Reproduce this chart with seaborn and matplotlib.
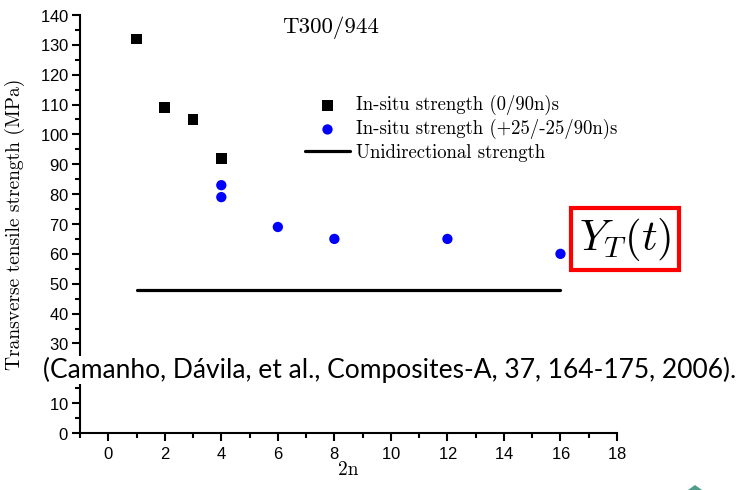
import matplotlib
matplotlib.use("Agg")
import matplotlib.pyplot as plt
import seaborn as sns
import pandas as pd
from matplotlib.ticker import MultipleLocator
from matplotlib.patches import Polygon

# ---- data ----
sq_x = [1, 2, 3, 4]
sq_y = [132, 109, 105, 92]
ci_x = [4, 4, 6, 8, 12, 16]
ci_y = [83, 79, 69, 65, 65, 60]
ud_x = [1, 16]
ud_y = [48, 48]

labels = ["In-situ strength (0/90n)s",
          "In-situ strength (+25/-25/90n)s",
          "Unidirectional strength"]
title_txt = "T300/944"
xlab = "2n"
ylab = "Transverse tensile strength (MPa)"
cite = "(Camanho, Dávila, et al., Composites-A, 37, 164-175, 2006)."

sns.set_theme(style="ticks", rc={"axes.edgecolor": "black",
                                 "xtick.color": "black",
                                 "ytick.color": "black",
                                 "text.color": "black",
                                 "axes.labelcolor": "black"})
plt.rcParams["mathtext.fontset"] = "cm"
plt.rcParams["axes.formatter.use_mathtext"] = True

fig = plt.figure(figsize=(7.4, 4.9), dpi=100)
ax = fig.add_axes([80/740, 1-433/490, (617-80)/740, (433-15)/490])

df_sq = pd.DataFrame({"x": sq_x, "y": sq_y})
df_ci = pd.DataFrame({"x": ci_x, "y": ci_y})
df_ud = pd.DataFrame({"x": ud_x, "y": ud_y})

sns.scatterplot(data=df_sq, x="x", y="y", marker="s", s=60, color="black",
                edgecolor="none", ax=ax, label=labels[0], zorder=3)
sns.scatterplot(data=df_ci, x="x", y="y", marker="o", s=55, color="#0000ff",
                edgecolor="none", ax=ax, label=labels[1], zorder=3)
sns.lineplot(data=df_ud, x="x", y="y", color="black", linewidth=2.3, ax=ax,
             label=labels[2])

ax.set_xlim(-1, 18)
ax.set_ylim(0, 140)
ax.xaxis.set_major_locator(MultipleLocator(2))
ax.xaxis.set_minor_locator(MultipleLocator(1))
ax.yaxis.set_major_locator(MultipleLocator(10))
ax.yaxis.set_minor_locator(MultipleLocator(5))
sns.despine(ax=ax)
for s in ["left", "bottom"]:
    ax.spines[s].set_linewidth(1.5)
ax.tick_params(which="major", length=6, width=1.5, direction="out")
ax.tick_params(which="minor", length=3.5, width=1.5, direction="out")
tickfont = "Liberation Sans"
for lab in ax.get_xticklabels() + ax.get_yticklabels():
    lab.set_fontfamily(tickfont)
    lab.set_fontsize(12)
ax.tick_params(axis="x", pad=3)
ax.tick_params(axis="y", pad=2)

ax.set_xlabel(xlab, family="cmr10", fontsize=14)
ax.set_ylabel(ylab, family="cmr10", fontsize=14)
ax.xaxis.set_label_coords(0.5, (433-470)/418, transform=ax.transAxes)
ax.yaxis.set_label_coords((15-80)/537, 0.5, transform=ax.transAxes)
ax.xaxis.label.set_va("center")
ax.yaxis.label.set_va("center")

fig.text(331/740, 1-28/490, title_txt, family="cmr10", fontsize=16.5,
         ha="center", va="center")

leg = ax.legend(loc="upper left", bbox_to_anchor=(305/740, 1-95/490),
                bbox_transform=fig.transFigure, frameon=False,
                borderpad=0, borderaxespad=0, handlelength=2.4,
                handletextpad=0.33, labelspacing=0.22,
                prop={"family": "cmr10", "size": 13.5})

fig.text(625/740, 1-239/490, r"$Y_T(t)$", fontsize=31, ha="center",
         va="center",
         bbox=dict(boxstyle="square,pad=0.18", facecolor="white",
                   edgecolor="#ff0000", linewidth=3))

fig.text(390/740, 1-370/490, cite, family="Lato", fontsize=19,
         ha="center", va="center",
         bbox=dict(boxstyle="square,pad=0.05", facecolor="white",
                   edgecolor="none"))

fig.patches.append(Polygon([(688/740, 0), (695/740, 5/490), (702/740, 0)],
                           closed=True, transform=fig.transFigure,
                           facecolor="#4f9e8c", edgecolor="none"))

fig.savefig("out.png", dpi=100)
